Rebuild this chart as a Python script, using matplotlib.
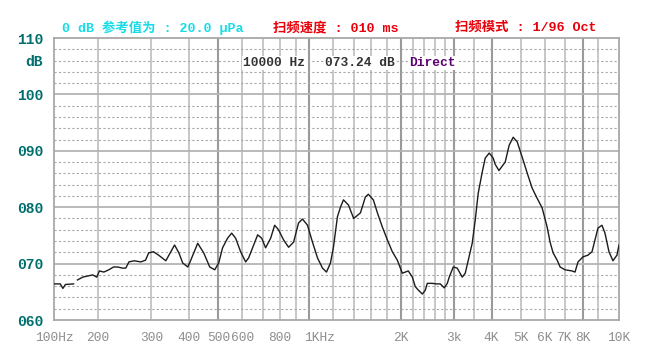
import numpy as np
import matplotlib
matplotlib.use("Agg")
import matplotlib.pyplot as plt

# measured response (Hz, dB); nan = gap in the trace
freq_hz = [143, 150, 153, 156, 166, 168, 171, 178, 185, 192, 198, 202, 209, 217, 225, 232,
           241, 247, 253, 263, 277, 287, 294, 305, 317, 335, 348, 358, 370, 381, 396,
           405, 427, 447, 468, 486, 501, 516, 536, 553, 570, 592, 615, 629, 654, 674,
           695, 716, 744, 767, 790, 821, 853, 886, 920, 948, 985, 1023, 1063, 1104,
           1138, 1173, 1200, 1237, 1266, 1295, 1345, 1400, 1474, 1530, 1565, 1626,
           1677, 1741, 1809, 1879, 1952, 2027, 2074, 2122, 2188, 2238, 2290, 2361,
           2415, 2452, 2547, 2625, 2706, 2790, 2855, 2897, 2987, 3079, 3199, 3273,
           3349, 3451, 3531, 3613, 3724, 3810, 3928, 4049, 4111, 4230, 4436, 4573,
           4714, 4860, 5047, 5242, 5445, 5655, 5875, 6104, 6244, 6389, 6589, 6740,
           6998, 7379, 7549, 7723, 8022, 8333, 8590, 8788, 8990, 9268, 9482, 9775,
           10076, 10387, 10550]
level_db = [66.4, 66.4, 65.6, 66.3, 66.4, np.nan, 67.1, 67.6, 67.8, 68.0, 67.6, 68.7, 68.5, 68.9, 69.4, 69.4,
            69.2, 69.2, 70.3, 70.5, 70.3, 70.6, 71.9, 72.1, 71.5, 70.5, 72.1, 73.3, 71.9, 70.1, 69.4,
            70.6, 73.6, 71.9, 69.4, 68.9, 70.1, 72.8, 74.5, 75.4, 74.5, 72.1, 70.3, 71.0, 73.3, 75.1,
            74.5, 72.8, 74.5, 76.8, 76.0, 74.2, 72.9, 73.8, 77.2, 77.9, 76.8, 73.8, 71.0, 69.2,
            68.5, 70.1, 72.9, 78.3, 80.0, 81.3, 80.4, 78.0, 79.0, 81.8, 82.3, 81.3,
            79.0, 76.5, 74.2, 72.1, 70.6, 68.3, 68.5, 68.7, 67.6, 65.9, 65.3, 64.6,
            65.3, 66.5, 66.5, 66.4, 66.4, 65.7, 66.5, 67.6, 69.4, 69.2, 67.6, 68.3,
            70.6, 73.6, 77.7, 82.5, 86.2, 88.7, 89.6, 88.7, 87.6, 86.5, 88.0, 91.0,
            92.4, 91.6, 88.9, 86.1, 83.4, 81.6, 79.9, 76.5, 73.8, 71.9, 70.6, 69.4,
            68.9, 68.7, 68.5, 70.3, 71.2, 71.5, 72.1, 74.2, 76.3, 76.8, 75.4, 72.1,
            70.5, 71.5, 73.3]

xtick_freqs = [143, 200, 300, 400, 500, 600, 800, 1000, 2000, 3000, 4000, 5000, 6000, 7000, 8000, 10550]
xtick_labels = ["100Hz", "200", "300", "400", "500", "600", "800", "1KHz", "2K", "3k", "4K", "5K", "6K", "7K", "8K", "10K"]
ytick_vals = [60, 70, 80, 90, 100, 110]
ytick_labels = ["060", "070", "080", "090", "100", "110"]

grid_freqs = [200, 300, 400, 500, 600, 700, 800, 900, 1000, 1200, 1400, 1600, 1800, 2000,
              2200, 2400, 2600, 2800, 3000, 3500, 4000, 5000, 6000, 7000, 8000, 9000]
bold_freqs = [500, 1000, 2000, 3000, 4000, 8000]

mono_cjk = ["Liberation Mono", "Noto Sans CJK SC"]

fig = plt.figure(figsize=(6.71, 3.55), dpi=100)
ax = fig.add_axes([54/671, 1-320/355, 565/671, 282/355])
ax.set_xscale("log")
ax.set_xlim(143, 10550)
ax.set_ylim(60, 110)

# grid
for f in grid_freqs:
    if f in bold_freqs:
        ax.axvline(f, color="#9a9a9a", lw=1.5, zorder=1)
    else:
        ax.axvline(f, color="#b8b8b8", lw=1.1, zorder=1)
for v in range(62, 110, 2):
    if v % 10 == 0:
        ax.axhline(v, color="#b4b4b4", lw=1.3, zorder=1)
    else:
        ax.axhline(v, color="#a8a8a8", lw=0.8, ls=(0, (2, 2)), zorder=1)
for s in ax.spines.values():
    s.set_color("#a8a8a8")
    s.set_linewidth(1.3)

ax.plot(freq_hz, level_db, color="#1c1c1c", lw=1.0, zorder=3)

ax.minorticks_off()
ax.set_xticks([])
ax.set_yticks(ytick_vals)
ax.set_yticklabels(ytick_labels, family="Liberation Mono", fontweight="bold",
                   fontsize=10.5, color="#006e6c")
ax.tick_params(axis="y", length=0, pad=8)

for f, lab in zip(xtick_freqs, xtick_labels):
    dx = 7 if lab == "1KHz" else 0
    ax.annotate(lab, xy=(f, 0), xycoords=ax.get_xaxis_transform(),
                xytext=(dx, -13), textcoords="offset points", ha="center", va="center",
                family="Liberation Mono", fontsize=9.3, color="#8e8e8e")

fig.text(25/671, 1-62/355, "dB", family="Liberation Mono", fontweight="bold",
         fontsize=10.5, color="#006e6c", va="center")

# header
fig.text(62/671, 1-28/355, "0 dB 参考值为 : 20.0 μPa", family=mono_cjk, fontweight="bold",
         fontsize=9.6, color="#18dce6", va="center")
fig.text(273/671, 1-28/355, "扫频速度 : 010 ms", family=mono_cjk, fontweight="bold",
         fontsize=9.6, color="#e8000a", va="center")
fig.text(455/671, 1-28/355, "扫频模式 : 1/96 Oct", family=mono_cjk, fontweight="bold",
         fontsize=9.6, color="#e8000a", va="center")

# readout inside plot
box = dict(facecolor="white", edgecolor="none", pad=1)
fig.text(243/671, 1-63/355, "10000 Hz", family="Liberation Mono", fontweight="bold",
         fontsize=9.3, color="#333333", va="center", bbox=box)
fig.text(325/671, 1-63/355, "073.24 dB", family="Liberation Mono", fontweight="bold",
         fontsize=9.3, color="#333333", va="center", bbox=box)
fig.text(409/671, 1-63/355, "Direct", family="Liberation Mono", fontweight="bold",
         fontsize=9.3, color="#5c0070", va="center", bbox=box)

fig.savefig("out.png", dpi=100, facecolor="white")
